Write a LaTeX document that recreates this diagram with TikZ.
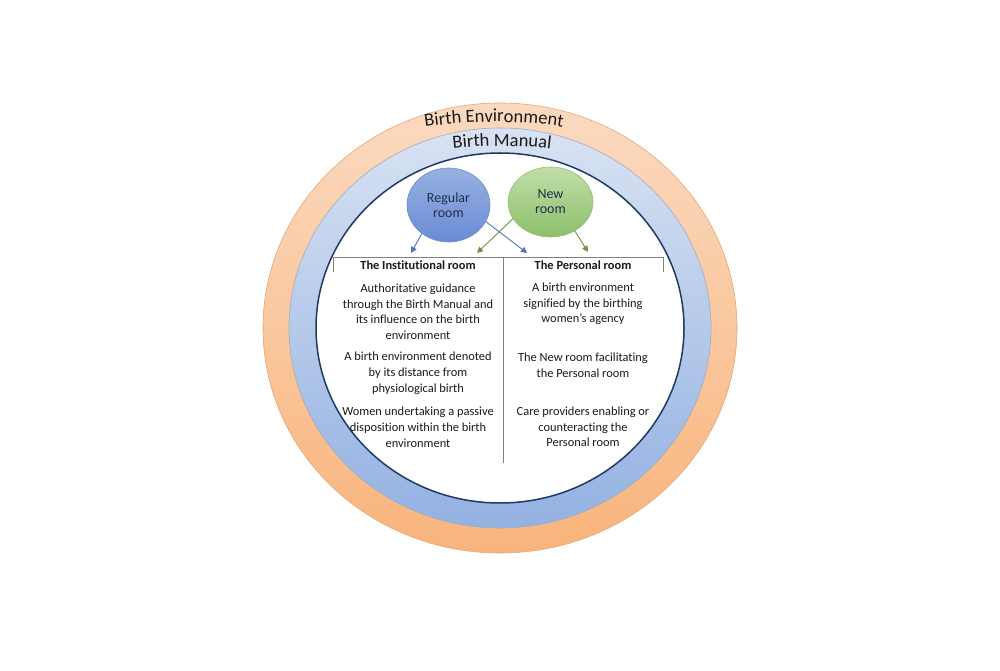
\documentclass[tikz,border=0pt]{standalone}
\usepackage{fontspec}
\setmainfont{Carlito}[Ligatures=NoCommon]
\usetikzlibrary{shapes.geometric,arrows.meta,decorations.text}
\definecolor{orTop}{HTML}{FBDAC0}
\definecolor{orMid}{HTML}{FAC69C}
\definecolor{orBot}{HTML}{F9B47C}
\definecolor{orEdge}{HTML}{E2A878}
\definecolor{blTop}{HTML}{D8E2F2}
\definecolor{blMid}{HTML}{BACEEC}
\definecolor{blBot}{HTML}{93B1E2}
\definecolor{blEdge}{HTML}{A4ACBC}
\definecolor{navy}{HTML}{1F3864}
\definecolor{regTop}{HTML}{97B1E2}
\definecolor{regBot}{HTML}{6A8BD3}
\definecolor{regEdge}{HTML}{6F8ECF}
\definecolor{newTop}{HTML}{C0DEA8}
\definecolor{newBot}{HTML}{8DBF6A}
\definecolor{newEdge}{HTML}{94BF78}
\definecolor{arrBlue}{HTML}{4F72BE}
\definecolor{arrGreen}{HTML}{76923C}
\definecolor{txt}{HTML}{1A1A1A}
\definecolor{bubtxt}{HTML}{1F2F4F}
\definecolor{tline}{HTML}{808080}
\newcommand{\ringfont}{\fontsize{18.5}{20}\selectfont}
\tikzset{
  bubble/.style={ellipse, inner sep=0pt, align=center, text=bubtxt,
    font=\fontsize{14}{15}\selectfont},
  colhead/.style={font=\fontsize{12.4}{15}\selectfont\bfseries, text=txt, inner sep=0pt},
  cell/.style={font=\fontsize{12.4}{15.6}\selectfont, text=txt, align=center, inner sep=0pt},
  bluearrow/.style={draw=arrBlue, line width=0.9pt, -{Triangle[length=6pt,width=6pt]}},
  greenarrow/.style={draw=arrGreen, line width=0.9pt, -{Triangle[length=6pt,width=6pt]}},
  tableline/.style={draw=tline, line width=0.6pt}
}
\begin{document}
\begin{tikzpicture}[x=1pt,y=1pt]
\useasboundingbox (0,0) rectangle (1000,670);
\fill[white] (0,0) rectangle (1000,670);
\coordinate (C) at (500,342);
% rings
\shade[top color=orTop, middle color=orMid, bottom color=orBot] (C) ellipse [x radius=237, y radius=225];
\draw[orEdge, line width=0.6pt] (C) ellipse [x radius=237, y radius=225];
\shade[top color=blTop, middle color=blMid, bottom color=blBot] (C) ellipse [x radius=211, y radius=200];
\draw[blEdge, line width=0.6pt] (C) ellipse [x radius=211, y radius=200];
\fill[white] (C) ellipse [x radius=184, y radius=175];
\draw[navy, line width=1.5pt] (C) ellipse [x radius=184, y radius=175];
% curved ring labels
\path[decorate, decoration={text along path, text align=center,
   text={|\ringfont\color{txt}|Birth Environment}}]
   (494,72) ++(100:476) arc[start angle=100, end angle=80, radius=476];
\path[decorate, decoration={text along path, text align=center,
   text={|\ringfont\color{txt}|Birth Manual}}]
   (502,104) ++(100:420) arc[start angle=100, end angle=80, radius=420];
% bubbles
\node[bubble, minimum width=83pt, minimum height=74pt, top color=regTop, bottom color=regBot, draw=regEdge, line width=0.6pt]
  (reg) at (448.5,465) {Regular\\room};
\node[bubble, minimum width=85pt, minimum height=70pt, top color=newTop, bottom color=newBot, draw=newEdge, line width=0.6pt]
  (new) at (550.5,468) {New\\room};
% arrow targets
\coordinate (t1) at (411,417);
\coordinate (t2) at (527,417);
\coordinate (t3) at (477,417);
\coordinate (t4) at (588,418);
\draw[bluearrow] (reg.227) -- (t1);
\draw[bluearrow] (reg.-24) -- (t2);
\draw[greenarrow] (new.204) -- (t3);
\draw[greenarrow] (new.-50) -- (t4);
% table lines
\coordinate (tl) at (333,413);
\coordinate (tr) at (663,413);
\coordinate (tm) at (503,413);
\coordinate (tlb) at (333,398);
\coordinate (trb) at (663,398);
\coordinate (tmb) at (503,207);
\draw[tableline] (tlb) -- (tl) -- (tr) -- (trb);
\draw[tableline] (tm) -- (tmb);
% headers
\node[colhead] (h1) at (418,405) {The Institutional room};
\node[colhead] (h2) at (583,405) {The Personal room};
% cells
\node[cell] (l1) at (418,358.3) {Authoritative guidance\\through the Birth Manual and\\its influence on the birth\\environment};
\node[cell] (l2) at (418,296.7) {A birth environment denoted\\by its distance from\\physiological birth};
\node[cell] (l3) at (418,242.7) {Women undertaking a passive\\disposition within the birth\\environment};
\node[cell] (r1) at (583,366) {A birth environment\\signified by the birthing\\women’s agency};
\node[cell] (r2) at (583,304.5) {The New room facilitating\\the Personal room};
\node[cell] (r3) at (583,243) {Care providers enabling or\\counteracting the\\Personal room};
\end{tikzpicture}
\end{document}
